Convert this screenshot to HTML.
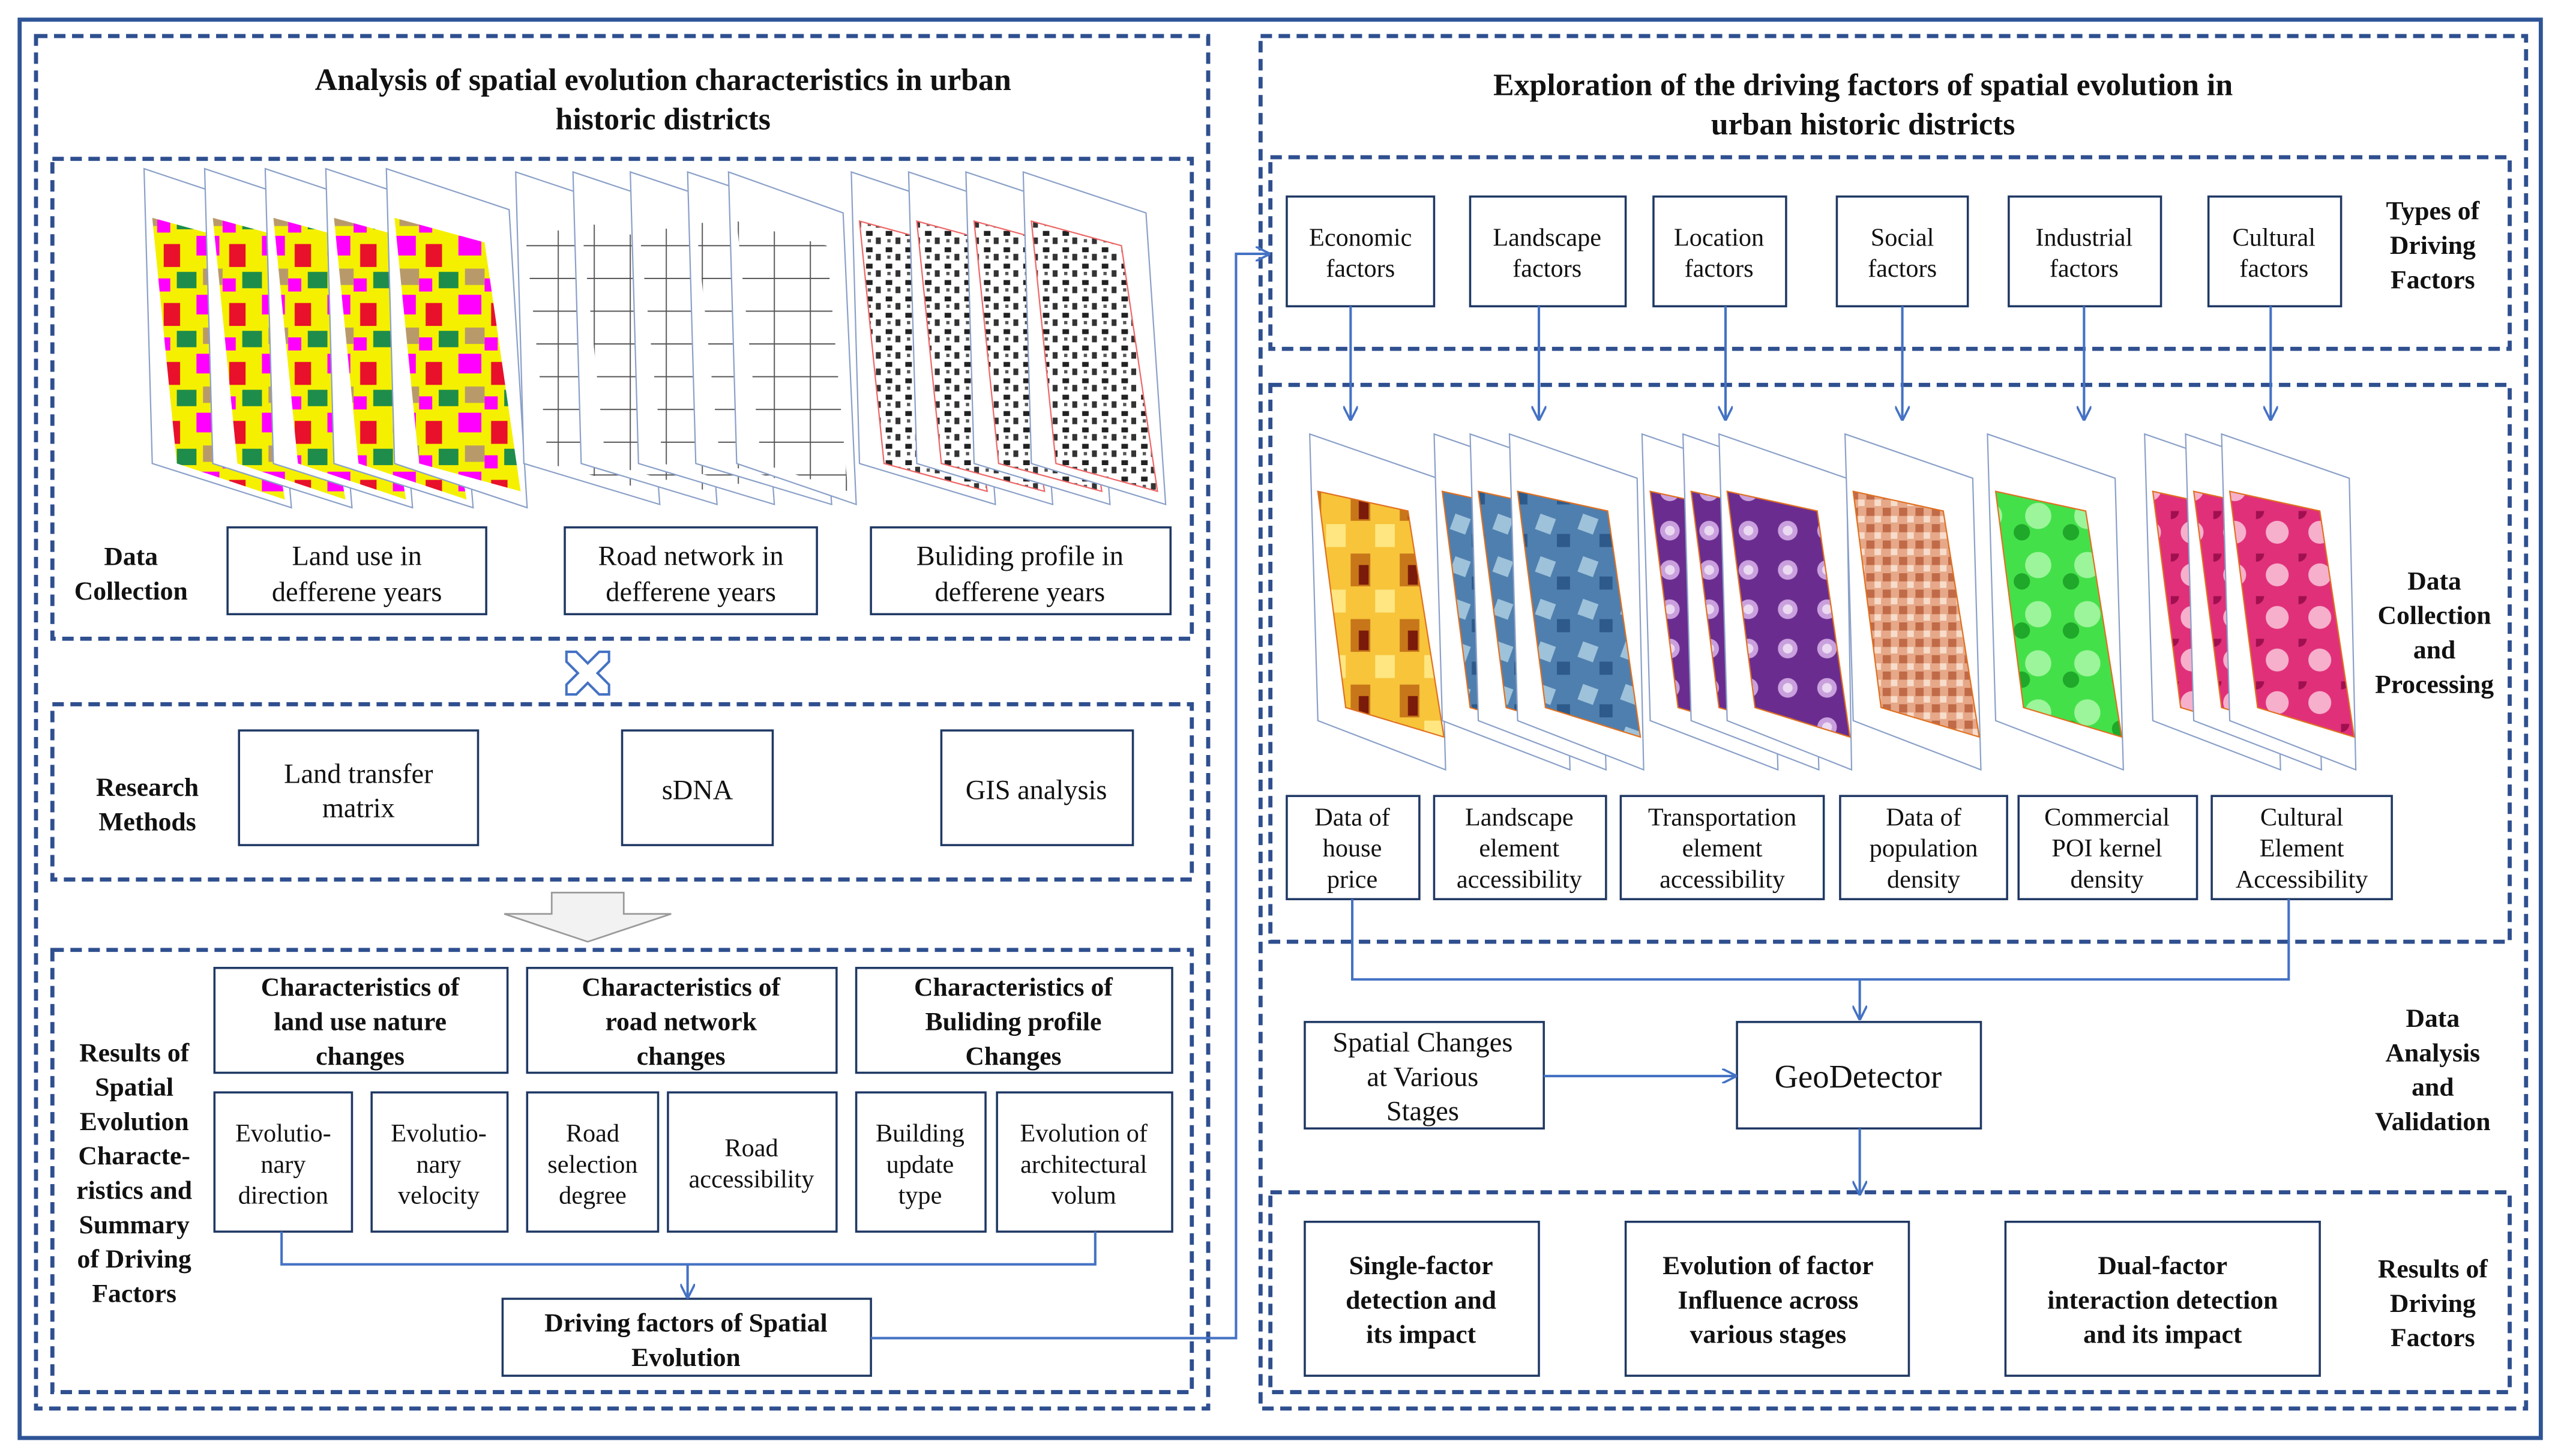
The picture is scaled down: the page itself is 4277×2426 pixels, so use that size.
<!DOCTYPE html>
<html><head><meta charset="utf-8"><style>
html,body{margin:0;padding:0;background:#fff;}
svg{display:block;}
text{font-family:"Liberation Serif",serif;fill:#111;}
.b{font-weight:bold;}
</style></head><body>
<svg width="4277" height="2426" viewBox="0 0 1568 889" preserveAspectRatio="none" xmlns="http://www.w3.org/2000/svg">
<defs>
<marker id="ar" viewBox="0 0 10 10" refX="9" refY="5" markerWidth="9" markerHeight="9" orient="auto-start-reverse" markerUnits="userSpaceOnUse"><path d="M0,0 L10,5 L0,10" fill="none" stroke="#4472c4" stroke-width="1.5"/></marker>
<pattern id="lu" width="40" height="36" patternUnits="userSpaceOnUse">
<rect width="40" height="36" fill="#f5f000"/><rect x="0" y="0" width="14" height="12" fill="#ff00ff"/><rect x="20" y="5" width="10" height="14" fill="#e8102a"/><rect x="28" y="22" width="12" height="10" fill="#1e8c4a"/><rect x="4" y="20" width="12" height="10" fill="#b89a6a"/><rect x="16" y="26" width="8" height="8" fill="#ff00ff"/></pattern>
<pattern id="rd" width="22" height="20" patternUnits="userSpaceOnUse"><rect width="22" height="20" fill="#fff"/><path d="M0,10 H22 M11,0 V20" stroke="#555" stroke-width="0.7"/></pattern>
<pattern id="bd" width="12" height="10" patternUnits="userSpaceOnUse"><rect width="12" height="10" fill="#fff"/><rect x="1" y="1" width="4" height="3" fill="#222"/><rect x="7" y="5" width="3" height="4" fill="#333"/><rect x="2" y="6" width="2" height="2" fill="#555"/></pattern>
<pattern id="hp" width="30" height="40" patternUnits="userSpaceOnUse"><rect width="30" height="40" fill="#f7c43a"/><rect x="0" y="0" width="12" height="14" fill="#ffe680"/><rect x="15" y="18" width="12" height="20" fill="#c8761a"/><rect x="20" y="25" width="6" height="12" fill="#7a1a0a"/></pattern>
<pattern id="ls" width="26" height="26" patternUnits="userSpaceOnUse"><rect width="26" height="26" fill="#4f7fae"/><rect x="3" y="3" width="10" height="10" fill="#9ec2da" transform="rotate(20 8 8)"/><rect x="15" y="14" width="8" height="8" fill="#2d5a8a"/></pattern>
<pattern id="tr" width="24" height="24" patternUnits="userSpaceOnUse"><rect width="24" height="24" fill="#6a2d8f"/><circle cx="12" cy="12" r="6" fill="#c9a0dd"/><circle cx="12" cy="12" r="3" fill="#ebdaf2"/></pattern>
<pattern id="pd" width="10" height="10" patternUnits="userSpaceOnUse"><rect width="10" height="10" fill="#e6a888"/><rect x="0" y="0" width="5" height="5" fill="#c06a48"/><rect x="5" y="5" width="4" height="4" fill="#f7dccb"/></pattern>
<pattern id="cp" width="30" height="30" patternUnits="userSpaceOnUse"><rect width="30" height="30" fill="#44e04a"/><circle cx="15" cy="15" r="8" fill="#9cf59a"/><circle cx="5" cy="25" r="5" fill="#1fa82a"/></pattern>
<pattern id="cu" width="26" height="26" patternUnits="userSpaceOnUse"><rect width="26" height="26" fill="#e0307a"/><circle cx="13" cy="13" r="7" fill="#f6b0cc"/><circle cx="0" cy="0" r="5" fill="#a01050"/></pattern>
</defs>
<rect x="12" y="12" width="1540" height="866" fill="none" stroke="#2f5597" stroke-width="2.5"/>
<g fill="none" stroke="#2f4f8f" stroke-width="2.5" stroke-dasharray="7,4">
<rect x="22" y="22" width="716" height="838"/>
<rect x="32" y="97" width="696" height="293"/>
<rect x="32" y="430" width="696" height="107"/>
<rect x="32" y="580" width="696" height="270"/>
<rect x="770" y="22" width="773" height="838"/>
<rect x="776" y="96" width="757" height="117"/>
<rect x="776" y="235" width="757" height="340"/>
<rect x="776" y="728" width="757" height="122"/>
</g>
<!-- left sheets -->
<g stroke="#8aa0c8" stroke-width="0.8">
<g id="s1"><polygon points="88,103 163,128 178,310 93,283" fill="#fff"/><polygon points="93,133 148,148 174,305 108,283" fill="url(#lu)" stroke="none"/></g>
<polygon points="125,103 200,128 215,310 130,283" fill="#fff"/><polygon points="130,133 185,148 211,305 145,283" fill="url(#lu)" stroke="none"/>
<polygon points="162,103 237,128 252,310 167,283" fill="#fff"/><polygon points="167,133 222,148 248,305 182,283" fill="url(#lu)" stroke="none"/>
<polygon points="199,103 274,128 289,310 204,283" fill="#fff"/><polygon points="204,133 259,148 285,305 219,283" fill="url(#lu)" stroke="none"/>
<polygon points="236,103 311,128 322,310 241,283" fill="#fff"/><polygon points="241,133 296,148 318,300 256,283" fill="url(#lu)" stroke="none"/>
<polygon points="315,105 390,130 403,308 320,283" fill="#fff"/><polygon points="320,135 375,150 398,300 335,283" fill="url(#rd)" stroke="none"/>
<polygon points="350,105 425,130 438,308 355,283" fill="#fff"/><polygon points="355,135 410,150 433,300 370,283" fill="url(#rd)" stroke="none"/>
<polygon points="385,105 460,130 473,308 390,283" fill="#fff"/><polygon points="390,135 445,150 468,300 405,283" fill="url(#rd)" stroke="none"/>
<polygon points="420,105 495,130 508,308 425,283" fill="#fff"/><polygon points="425,135 480,150 503,300 440,283" fill="url(#rd)" stroke="none"/>
<polygon points="445,105 515,130 523,308 450,283" fill="#fff"/><polygon points="450,135 505,150 518,300 465,283" fill="url(#rd)" stroke="none"/>
<polygon points="520,105 595,130 608,308 525,283" fill="#fff"/><polygon points="525,135 580,150 603,300 540,283" fill="url(#bd)" stroke="#e66"/>
<polygon points="555,105 630,130 643,308 560,283" fill="#fff"/><polygon points="560,135 615,150 638,300 575,283" fill="url(#bd)" stroke="#e66"/>
<polygon points="590,105 665,130 678,308 595,283" fill="#fff"/><polygon points="595,135 650,150 673,300 610,283" fill="url(#bd)" stroke="#e66"/>
<polygon points="625,105 700,130 712,308 630,283" fill="#fff"/><polygon points="630,135 685,150 707,300 645,283" fill="url(#bd)" stroke="#e66"/>
</g>
<!-- right sheets -->
<g stroke="#8aa0c8" stroke-width="0.8">
<polygon points="800,265 878,292 883,470 805,440" fill="#fff"/><polygon points="805,300 860,312 882,450 822,432" fill="url(#hp)" stroke="#e07020"/>
<polygon points="876,265 954,292 959,470 881,440" fill="#fff"/><polygon points="881,300 936,312 958,450 898,432" fill="url(#ls)" stroke="#e07020"/>
<polygon points="898,265 976,292 981,470 903,440" fill="#fff"/><polygon points="903,300 958,312 980,450 920,432" fill="url(#ls)" stroke="#e07020"/>
<polygon points="922,265 1000,292 1004,470 927,440" fill="#fff"/><polygon points="927,300 982,312 1002,450 944,432" fill="url(#ls)" stroke="#e07020"/>
<polygon points="1003,265 1081,292 1086,470 1008,440" fill="#fff"/><polygon points="1008,300 1063,312 1085,450 1025,432" fill="url(#tr)" stroke="#e07020"/>
<polygon points="1028,265 1106,292 1111,470 1033,440" fill="#fff"/><polygon points="1033,300 1088,312 1110,450 1050,432" fill="url(#tr)" stroke="#e07020"/>
<polygon points="1050,265 1128,292 1131,470 1055,440" fill="#fff"/><polygon points="1055,300 1110,312 1130,450 1072,432" fill="url(#tr)" stroke="#e07020"/>
<polygon points="1127,265 1205,292 1210,470 1132,440" fill="#fff"/><polygon points="1132,300 1187,312 1209,450 1149,432" fill="url(#pd)" stroke="#e07020"/>
<polygon points="1214,265 1292,292 1297,470 1219,440" fill="#fff"/><polygon points="1219,300 1274,312 1296,450 1236,432" fill="url(#cp)" stroke="#e07020"/>
<polygon points="1310,265 1388,292 1393,470 1315,440" fill="#fff"/><polygon points="1315,300 1370,312 1392,450 1332,432" fill="url(#cu)" stroke="#e07020"/>
<polygon points="1335,265 1413,292 1418,470 1340,440" fill="#fff"/><polygon points="1340,300 1395,312 1417,450 1357,432" fill="url(#cu)" stroke="#e07020"/>
<polygon points="1357,265 1435,292 1439,470 1362,440" fill="#fff"/><polygon points="1362,300 1417,312 1438,450 1379,432" fill="url(#cu)" stroke="#e07020"/>
</g>
<!-- boxes -->
<g fill="#fff" stroke="#1f3864" stroke-width="1.3">
<rect x="139" y="322" width="158" height="53"/><rect x="345" y="322" width="154" height="53"/><rect x="532" y="322" width="183" height="53"/>
<rect x="146" y="446" width="146" height="70"/><rect x="380" y="446" width="92" height="70"/><rect x="575" y="446" width="117" height="70"/>
<rect x="131" y="591" width="179" height="64"/><rect x="322" y="591" width="189" height="64"/><rect x="523" y="591" width="193" height="64"/>
<rect x="131" y="667" width="84" height="85"/><rect x="227" y="667" width="83" height="85"/><rect x="322" y="667" width="80" height="85"/><rect x="408" y="667" width="103" height="85"/><rect x="523" y="667" width="79" height="85"/><rect x="609" y="667" width="107" height="85"/>
<rect x="307" y="793" width="225" height="47"/>
<rect x="786" y="120" width="90" height="67"/><rect x="898" y="120" width="95" height="67"/><rect x="1010" y="120" width="81" height="67"/><rect x="1122" y="120" width="80" height="67"/><rect x="1227" y="120" width="93" height="67"/><rect x="1349" y="120" width="81" height="67"/>
<rect x="786" y="486" width="81" height="63"/><rect x="876" y="486" width="105" height="63"/><rect x="990" y="486" width="124" height="63"/><rect x="1124" y="486" width="102" height="63"/><rect x="1233" y="486" width="109" height="63"/><rect x="1351" y="486" width="110" height="63"/>
<rect x="797" y="624" width="146" height="65"/><rect x="1061" y="624" width="149" height="65"/>
<rect x="797" y="746" width="143" height="94"/><rect x="993" y="746" width="173" height="94"/><rect x="1225" y="746" width="192" height="94"/>
</g>
<!-- cross icon -->
<path d="M346,398 L352,398 L359,405 L366,398 L372,398 L372,404 L365,411 L372,418 L372,424 L366,424 L359,417 L352,424 L346,424 L346,418 L353,411 L346,404 Z" fill="#fff" stroke="#4472c4" stroke-width="1.5"/>
<!-- gray arrow -->
<path d="M337,545 H381 V558 H410 L359,575 L308,558 H337 Z" fill="#f2f2f2" stroke="#999" stroke-width="1"/>
<!-- connectors -->
<g fill="none" stroke="#4472c4" stroke-width="1.5">
<path d="M172,752 V772 H669 V752"/><path d="M420,772 V792" marker-end="url(#ar)"/>
<path d="M532,817 H755 V155 H775" marker-end="url(#ar)"/>
<path d="M825,187 V256" marker-end="url(#ar)"/><path d="M940,187 V256" marker-end="url(#ar)"/><path d="M1054,187 V256" marker-end="url(#ar)"/><path d="M1162,187 V256" marker-end="url(#ar)"/><path d="M1273,187 V256" marker-end="url(#ar)"/><path d="M1387,187 V256" marker-end="url(#ar)"/>
<path d="M826,549 V598 H1398 V549"/><path d="M1136,598 V622" marker-end="url(#ar)"/>
<path d="M943,657 H1060" marker-end="url(#ar)"/><path d="M1136,689 V729" marker-end="url(#ar)"/>
</g>
<!-- text -->
<g text-anchor="middle">
<text class="b" font-size="19" x="405" y="55">Analysis of spatial evolution characteristics in urban</text>
<text class="b" font-size="19" x="405" y="79">historic districts</text>
<text class="b" font-size="19" x="1138" y="58">Exploration of the driving factors of spatial evolution in</text>
<text class="b" font-size="19" x="1138" y="82">urban historic districts</text>
<g class="b" font-size="16"><text x="80" y="345" class="b">Data</text><text x="80" y="366" class="b">Collection</text>
<text x="90" y="486" class="b">Research</text><text x="90" y="507" class="b">Methods</text>
<text x="82" y="648" class="b">Results  of</text><text x="82" y="669" class="b">Spatial</text><text x="82" y="690" class="b">Evolution</text><text x="82" y="711" class="b">Characte-</text><text x="82" y="732" class="b">ristics and</text><text x="82" y="753" class="b">Summary</text><text x="82" y="774" class="b">of Driving</text><text x="82" y="795" class="b">Factors</text>
<text x="220" y="608" class="b">Characteristics of</text><text x="220" y="629" class="b">land use nature</text><text x="220" y="650" class="b">changes</text>
<text x="416" y="608" class="b">Characteristics of</text><text x="416" y="629" class="b">road network</text><text x="416" y="650" class="b">changes</text>
<text x="619" y="608" class="b">Characteristics of</text><text x="619" y="629" class="b">Buliding profile</text><text x="619" y="650" class="b">Changes</text>
<text x="419" y="813" class="b">Driving factors  of Spatial</text><text x="419" y="834" class="b">Evolution</text>
<text x="1486" y="134" class="b">Types of</text><text x="1486" y="155" class="b">Driving</text><text x="1486" y="176" class="b">Factors</text>
<text x="1487" y="360" class="b">Data</text><text x="1487" y="381" class="b">Collection</text><text x="1487" y="402" class="b">and</text><text x="1487" y="423" class="b">Processing</text>
<text x="1486" y="627" class="b">Data</text><text x="1486" y="648" class="b">Analysis</text><text x="1486" y="669" class="b">and</text><text x="1486" y="690" class="b">Validation</text>
<text x="1486" y="780" class="b">Results of</text><text x="1486" y="801" class="b">Driving</text><text x="1486" y="822" class="b">Factors</text>
<text x="868" y="778" class="b">Single-factor</text><text x="868" y="799" class="b">detection and</text><text x="868" y="820" class="b">its impact</text>
<text x="1080" y="778" class="b">Evolution of factor</text><text x="1080" y="799" class="b">Influence across</text><text x="1080" y="820" class="b">various stages</text>
<text x="1321" y="778" class="b">Dual-factor</text><text x="1321" y="799" class="b">interaction detection</text><text x="1321" y="820" class="b">and its impact</text>
</g>
<g font-size="17"><text x="218" y="345">Land use in</text><text x="218" y="367">defferene years</text>
<text x="422" y="345">Road network in</text><text x="422" y="367">defferene years</text>
<text x="623" y="345">Buliding profile  in</text><text x="623" y="367">defferene years</text>
<text x="219" y="478">Land transfer</text><text x="219" y="499">matrix</text>
<text x="426" y="488">sDNA</text><text x="633" y="488">GIS analysis</text>
<text x="869" y="642">Spatial Changes</text><text x="869" y="663">at Various</text><text x="869" y="684">Stages</text></g>
<text x="1135" y="664" font-size="20">GeoDetector</text>
<g font-size="15.5">
<text x="173" y="697">Evolutio-</text><text x="173" y="716">nary</text><text x="173" y="735">direction</text>
<text x="268" y="697">Evolutio-</text><text x="268" y="716">nary</text><text x="268" y="735">velocity</text>
<text x="362" y="697">Road</text><text x="362" y="716">selection</text><text x="362" y="735">degree</text>
<text x="459" y="706">Road</text><text x="459" y="725">accessibility</text>
<text x="562" y="697">Building</text><text x="562" y="716">update</text><text x="562" y="735">type</text>
<text x="662" y="697">Evolution of</text><text x="662" y="716">architectural</text><text x="662" y="735">volum</text>
<text x="831" y="150">Economic</text><text x="831" y="169">factors</text>
<text x="945" y="150">Landscape</text><text x="945" y="169">factors</text>
<text x="1050" y="150">Location</text><text x="1050" y="169">factors</text>
<text x="1162" y="150">Social</text><text x="1162" y="169">factors</text>
<text x="1273" y="150">Industrial</text><text x="1273" y="169">factors</text>
<text x="1389" y="150">Cultural</text><text x="1389" y="169">factors</text>
<text x="826" y="504">Data of</text><text x="826" y="523">house</text><text x="826" y="542">price</text>
<text x="928" y="504">Landscape</text><text x="928" y="523">element</text><text x="928" y="542">accessibility</text>
<text x="1052" y="504">Transportation</text><text x="1052" y="523">element</text><text x="1052" y="542">accessibility</text>
<text x="1175" y="504">Data of</text><text x="1175" y="523">population</text><text x="1175" y="542">density</text>
<text x="1287" y="504">Commercial</text><text x="1287" y="523">POI kernel</text><text x="1287" y="542">density</text>
<text x="1406" y="504">Cultural</text><text x="1406" y="523">Element</text><text x="1406" y="542">Accessibility</text>
</g>
</g>
</svg>
</body></html>
